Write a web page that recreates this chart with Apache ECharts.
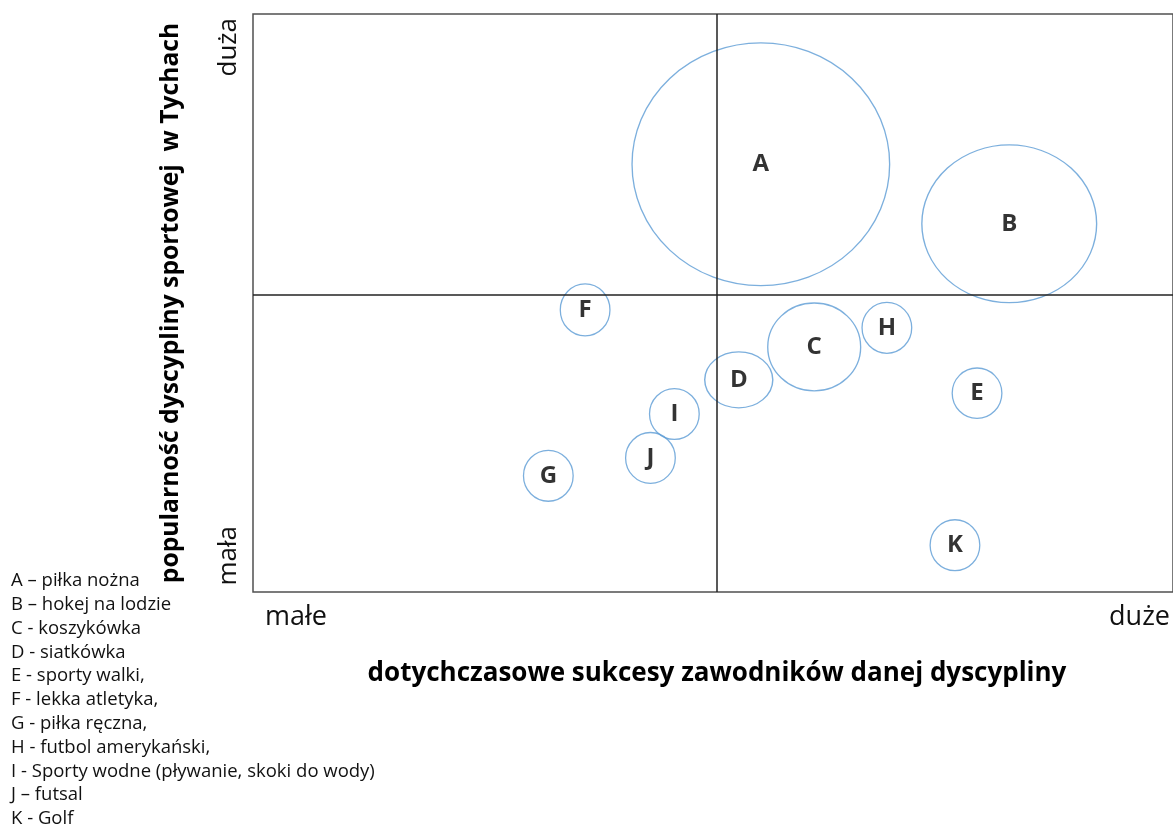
<!DOCTYPE html>
<html>
<head>
<meta charset="utf-8">
<script src="https://cdn.jsdelivr.net/npm/echarts@6/dist/echarts.min.js"></script>
<style>
  html, body { margin: 0; padding: 0; background: #fff; }
  #chart { width: 1173px; height: 825px; }
</style>
</head>
<body>
<div id="chart"></div>
<script>
// dyscypliny (etykiety bąbli)
var labels = ['A', 'B', 'C', 'D', 'E', 'F', 'G', 'H', 'I', 'J', 'K'];
// sukcesy (oś x, 0-100)
var sukcesy = [55.2, 82.2, 61.0, 52.8, 78.7, 36.1, 32.1, 68.9, 45.8, 43.2, 76.3];
// popularność (oś y, 0-100)
var popularnosc = [74.0, 63.7, 42.4, 36.7, 34.4, 48.8, 20.1, 45.7, 30.8, 23.2, 8.1];
// rozmiar bąbla w jednostkach osi x / osi y
var szerokosc = [28.0, 19.0, 10.1, 7.4, 5.4, 5.4, 5.4, 5.4, 5.4, 5.4, 5.4];
var wysokosc = [42.0, 27.3, 15.2, 9.7, 8.7, 9.0, 8.8, 8.8, 8.8, 8.8, 8.8];
// linie podziału na ćwiartki
var srodekX = 50.4;
var srodekY = 51.4;

var legenda = [
    'A – piłka nożna',
    'B – hokej na lodzie',
    'C - koszykówka',
    'D - siatkówka',
    'E - sporty walki,',
    'F - lekka atletyka,',
    'G - piłka ręczna,',
    'H - futbol amerykański,',
    'I - Sporty wodne (pływanie, skoki do wody)',
    'J – futsal',
    'K - Golf'
];

var gridW = 920, gridH = 578;
var font = '"Open Sans", Lato, sans-serif';

var punkty = labels.map(function (l, i) {
    return {
        name: l,
        value: [sukcesy[i], popularnosc[i]],
        symbolSize: [szerokosc[i] * gridW / 100, wysokosc[i] * gridH / 100]
    };
});

var chart = echarts.init(document.getElementById('chart'));
var option = {
    animation: false,
    grid: {
        left: 253, top: 14, width: gridW + 2, height: gridH,
        show: true, borderColor: '#505050', borderWidth: 1.5, backgroundColor: '#fff'
    },
    xAxis: {
        type: 'value', min: 0, max: 100,
        axisLine: { show: false }, axisTick: { show: false },
        axisLabel: { show: false }, splitLine: { show: false },
        name: 'dotychczasowe sukcesy zawodników danej dyscypliny',
        nameLocation: 'middle', nameGap: 69,
        nameTextStyle: { fontFamily: font, fontSize: 26, fontWeight: 'bold', color: '#000', padding: [0, 0, 0, 8] }
    },
    yAxis: {
        type: 'value', min: 0, max: 100,
        axisLine: { show: false }, axisTick: { show: false },
        axisLabel: { show: false }, splitLine: { show: false },
        name: 'popularność dyscypliny sportowej  w Tychach',
        nameLocation: 'middle', nameGap: 70,
        nameTextStyle: { fontFamily: font, fontSize: 24.7, fontWeight: 'bold', color: '#000' }
    },
    series: [{
        type: 'scatter',
        data: punkty,
        symbol: 'circle',
        itemStyle: { color: 'rgba(0,0,0,0)', borderColor: '#5b9bd5', borderWidth: 1.3 },
        label: {
            show: true, position: 'inside', formatter: '{b}',
            fontFamily: font, fontSize: 24, fontWeight: 'bold', color: '#000'
        },
        markLine: {
            silent: true, symbol: 'none', label: { show: false },
            lineStyle: { color: '#222', width: 1.5, type: 'solid' },
            data: [{ xAxis: srodekX }, { yAxis: srodekY }]
        }
    }],
    graphic: [
        { type: 'text', left: 216, top: 18, rotation: Math.PI / 2,
          style: { text: 'duża', font: '26px ' + font, fill: '#111' } },
        { type: 'text', left: 216, top: 526, rotation: Math.PI / 2,
          style: { text: 'mała', font: '26px ' + font, fill: '#111' } },
        { type: 'text', left: 265, top: 604,
          style: { text: 'małe', font: '27px ' + font, fill: '#111' } },
        { type: 'text', right: 3, top: 604,
          style: { text: 'duże', font: '27px ' + font, fill: '#111' } },
        { type: 'text', left: 11, top: 569,
          style: { text: legenda.join('\n'), font: '18.5px ' + font, fill: '#111', lineHeight: 23.8 } }
    ]
};
chart.setOption(option);
window.addEventListener('resize', function () { chart.resize(); });
</script>
</body>
</html>
